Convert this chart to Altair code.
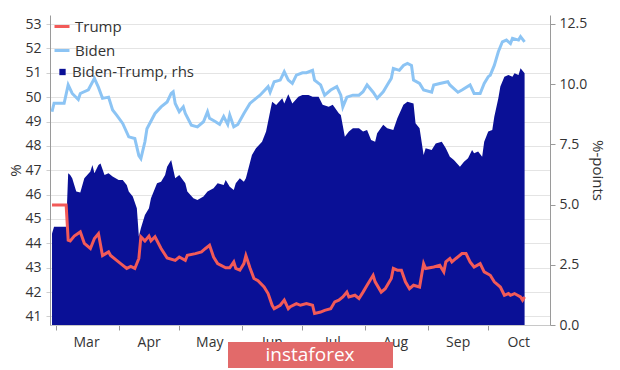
import altair as alt
import pandas as pd

# ---- data ----
trump_dates = [
    "2020-02-28", "2020-03-06", "2020-03-07", "2020-03-08", "2020-03-10", "2020-03-13", "2020-03-15",
    "2020-03-18", "2020-03-20", "2020-03-22", "2020-03-24", "2020-03-26", "2020-03-27", "2020-03-28",
    "2020-03-31", "2020-04-02", "2020-04-05", "2020-04-07", "2020-04-09", "2020-04-11", "2020-04-12",
    "2020-04-14", "2020-04-16", "2020-04-17", "2020-04-19", "2020-04-22", "2020-04-25", "2020-04-29",
    "2020-05-01", "2020-05-04", "2020-05-05", "2020-05-09", "2020-05-12", "2020-05-14", "2020-05-16",
    "2020-05-18", "2020-05-20", "2020-05-24", "2020-05-26", "2020-05-28", "2020-05-29", "2020-05-31",
    "2020-06-02", "2020-06-03", "2020-06-05", "2020-06-07", "2020-06-09", "2020-06-12", "2020-06-14",
    "2020-06-16", "2020-06-17", "2020-06-20", "2020-06-22", "2020-06-24", "2020-06-25", "2020-06-28",
    "2020-06-30", "2020-07-03", "2020-07-06", "2020-07-07", "2020-07-10", "2020-07-12", "2020-07-15",
    "2020-07-17", "2020-07-19", "2020-07-21", "2020-07-23", "2020-07-24", "2020-07-27", "2020-07-29",
    "2020-07-31", "2020-08-02", "2020-08-05", "2020-08-06", "2020-08-09", "2020-08-11", "2020-08-14",
    "2020-08-15", "2020-08-17", "2020-08-19", "2020-08-21", "2020-08-23", "2020-08-25", "2020-08-28",
    "2020-08-30", "2020-08-31", "2020-09-04", "2020-09-07", "2020-09-09", "2020-09-10", "2020-09-12",
    "2020-09-13", "2020-09-15", "2020-09-18", "2020-09-20", "2020-09-22", "2020-09-24", "2020-09-27",
    "2020-09-29", "2020-10-02", "2020-10-04", "2020-10-07", "2020-10-09", "2020-10-11", "2020-10-12",
    "2020-10-14", "2020-10-17", "2020-10-18", "2020-10-19",
]
trump_values = [
    45.57, 45.57, 44.13, 44.10, 44.30, 44.47, 44.00,
    43.79, 44.20, 44.40, 43.50, 43.60, 43.65, 43.50,
    43.30, 43.17, 42.97, 43.05, 42.97, 43.38, 44.27,
    44.10, 44.30, 44.10, 44.27, 43.79, 43.40, 43.30,
    43.44, 43.30, 43.51, 43.58, 43.65, 43.79, 43.92,
    43.44, 43.17, 43.00, 43.00, 43.24, 42.97, 42.90,
    43.17, 43.50, 43.00, 42.56, 42.47, 42.21, 41.94,
    41.46, 41.32, 41.46, 41.67, 41.32, 41.40, 41.53,
    41.46, 41.53, 41.46, 41.12, 41.18, 41.25, 41.32,
    41.60, 41.67, 41.80, 42.00, 41.80, 41.87, 41.74,
    42.00, 42.28, 42.69, 42.42, 42.00, 42.14, 42.56,
    42.97, 42.90, 42.90, 42.42, 42.14, 42.28, 42.21,
    43.17, 42.97, 43.03, 43.10, 42.83, 43.24, 43.38,
    43.24, 43.38, 43.58, 43.58, 43.24, 43.03, 43.17,
    42.83, 42.69, 42.42, 42.21, 41.87, 41.94, 41.87,
    41.94, 41.80, 41.67, 41.80,
]

biden_dates = [
    "2020-02-28", "2020-02-29", "2020-03-05", "2020-03-07", "2020-03-09", "2020-03-12", "2020-03-13",
    "2020-03-17", "2020-03-20", "2020-03-22", "2020-03-24", "2020-03-27", "2020-03-29", "2020-03-31",
    "2020-04-03", "2020-04-06", "2020-04-09", "2020-04-11", "2020-04-12", "2020-04-14", "2020-04-15",
    "2020-04-19", "2020-04-22", "2020-04-25", "2020-04-27", "2020-04-28", "2020-04-29", "2020-05-01",
    "2020-05-03", "2020-05-04", "2020-05-07", "2020-05-10", "2020-05-13", "2020-05-15", "2020-05-16",
    "2020-05-19", "2020-05-21", "2020-05-23", "2020-05-25", "2020-05-26", "2020-05-28", "2020-05-30",
    "2020-06-02", "2020-06-05", "2020-06-08", "2020-06-10", "2020-06-14", "2020-06-15", "2020-06-17",
    "2020-06-20", "2020-06-22", "2020-06-24", "2020-06-26", "2020-06-28", "2020-07-01", "2020-07-03",
    "2020-07-06", "2020-07-07", "2020-07-10", "2020-07-12", "2020-07-15", "2020-07-18", "2020-07-20",
    "2020-07-21", "2020-07-23", "2020-07-26", "2020-07-29", "2020-07-31", "2020-08-02", "2020-08-05",
    "2020-08-07", "2020-08-10", "2020-08-12", "2020-08-14", "2020-08-15", "2020-08-18", "2020-08-20",
    "2020-08-22", "2020-08-24", "2020-08-25", "2020-08-28", "2020-08-30", "2020-09-03", "2020-09-04",
    "2020-09-07", "2020-09-11", "2020-09-12", "2020-09-16", "2020-09-18", "2020-09-22", "2020-09-24",
    "2020-09-27", "2020-09-29", "2020-10-01", "2020-10-02", "2020-10-04", "2020-10-06", "2020-10-08",
    "2020-10-10", "2020-10-12", "2020-10-13", "2020-10-16", "2020-10-17", "2020-10-19",
]
biden_values = [
    49.40, 49.75, 49.75, 50.50, 50.15, 49.90, 50.15,
    50.30, 50.77, 50.40, 49.95, 50.00, 49.47, 49.26,
    48.92, 48.37, 48.30, 47.60, 47.48, 48.17, 48.70,
    49.33, 49.60, 49.80, 50.15, 50.22, 49.74, 49.40,
    49.60, 49.33, 48.85, 48.78, 48.99, 49.40, 49.13,
    48.99, 48.88, 49.20, 48.88, 49.26, 48.78, 48.88,
    49.33, 49.74, 49.95, 50.08, 50.43, 50.20, 50.63,
    50.70, 51.04, 50.70, 50.56, 50.90, 51.00, 51.00,
    51.10, 50.70, 50.50, 50.08, 50.29, 50.43, 50.08,
    49.60, 50.00, 50.08, 50.08, 50.22, 50.50, 50.20,
    49.95, 50.22, 50.50, 50.77, 51.18, 51.10, 51.30,
    51.38, 51.30, 50.70, 50.56, 50.29, 50.20, 50.50,
    50.56, 50.63, 50.50, 50.20, 50.29, 50.50, 50.15,
    50.15, 50.56, 50.84, 50.90, 51.30, 51.86, 52.27,
    52.34, 52.20, 52.41, 52.34, 52.48, 52.27,
]

gap_dates = [
    "2020-02-28", "2020-02-29", "2020-03-06", "2020-03-07", "2020-03-08", "2020-03-09", "2020-03-11",
    "2020-03-13", "2020-03-15", "2020-03-18", "2020-03-19", "2020-03-20", "2020-03-22", "2020-03-23",
    "2020-03-25", "2020-03-27", "2020-03-29", "2020-04-01", "2020-04-03", "2020-04-05", "2020-04-06",
    "2020-04-08", "2020-04-10", "2020-04-11", "2020-04-12", "2020-04-14", "2020-04-16", "2020-04-17",
    "2020-04-20", "2020-04-22", "2020-04-24", "2020-04-25", "2020-04-27", "2020-04-29", "2020-05-01",
    "2020-05-04", "2020-05-05", "2020-05-08", "2020-05-10", "2020-05-13", "2020-05-15", "2020-05-18",
    "2020-05-20", "2020-05-23", "2020-05-24", "2020-05-26", "2020-05-28", "2020-05-29", "2020-05-31",
    "2020-06-02", "2020-06-03", "2020-06-06", "2020-06-08", "2020-06-11", "2020-06-13", "2020-06-15",
    "2020-06-16", "2020-06-18", "2020-06-21", "2020-06-22", "2020-06-24", "2020-06-26", "2020-06-29",
    "2020-07-01", "2020-07-04", "2020-07-06", "2020-07-09", "2020-07-11", "2020-07-14", "2020-07-16",
    "2020-07-19", "2020-07-20", "2020-07-22", "2020-07-24", "2020-07-26", "2020-07-29", "2020-07-31",
    "2020-08-02", "2020-08-04", "2020-08-06", "2020-08-07", "2020-08-10", "2020-08-12", "2020-08-15",
    "2020-08-17", "2020-08-20", "2020-08-22", "2020-08-25", "2020-08-26", "2020-08-28", "2020-08-30",
    "2020-08-31", "2020-09-03", "2020-09-05", "2020-09-08", "2020-09-10", "2020-09-12", "2020-09-14",
    "2020-09-17", "2020-09-19", "2020-09-21", "2020-09-23", "2020-09-24", "2020-09-26", "2020-09-28",
    "2020-09-29", "2020-10-01", "2020-10-03", "2020-10-04", "2020-10-06", "2020-10-07", "2020-10-09",
    "2020-10-11", "2020-10-13", "2020-10-14", "2020-10-16", "2020-10-17", "2020-10-19",
]
gap_values = [
    3.80, 4.08, 4.08, 6.30, 6.23, 6.09, 5.54,
    5.50, 6.09, 6.37, 6.64, 6.30, 6.64, 6.71,
    6.23, 6.30, 6.16, 6.02, 6.02, 5.81, 5.54,
    5.33, 4.85, 3.67, 4.02, 4.57, 4.85, 5.26,
    5.88, 5.95, 6.23, 6.57, 6.85, 6.09, 6.23,
    5.88, 5.54, 5.26, 5.19, 5.33, 5.54, 5.68,
    5.88, 5.81, 6.02, 5.74, 5.60, 5.88, 6.09,
    5.95, 6.09, 7.06, 7.34, 7.61, 8.03, 8.86,
    9.27, 9.13, 9.41, 9.20, 9.58, 9.20, 9.48,
    9.55, 9.55, 9.48, 9.48, 9.14, 9.06, 9.14,
    8.79, 8.72, 7.82, 8.03, 8.17, 8.17, 8.03,
    8.10, 7.68, 7.61, 7.96, 8.31, 8.17, 8.10,
    8.58, 9.14, 9.27, 9.20, 8.38, 8.17, 7.06,
    7.34, 7.27, 7.54, 7.61, 7.34, 6.99, 6.85,
    6.57, 6.78, 6.92, 7.27, 7.13, 7.20, 6.99,
    7.61, 8.03, 8.10, 8.65, 9.41, 9.90, 10.31,
    10.38, 10.31, 10.45, 10.38, 10.66, 10.45,
]

series_names = ["Trump", "Biden", "Biden-Trump, rhs"]
series_colors = ["#f25a58", "#8cc4f4", "#0a1096"]
month_starts = [(2020, m) for m in range(3, 11)]
left_ticks = [41, 42, 43, 44, 45, 46, 47, 48, 49, 50, 51, 52, 53]
right_ticks = [0.0, 2.5, 5.0, 7.5, 10.0, 12.5]
watermark = ["instaforex"]

# ---- tables ----
lines_df = pd.concat([
    pd.DataFrame({"date": trump_dates, "value": trump_values, "series": series_names[0]}),
    pd.DataFrame({"date": biden_dates, "value": biden_values, "series": series_names[1]}),
])
gap_df = pd.DataFrame({"date": gap_dates, "value": gap_values, "series": series_names[2]})
wm_df = pd.DataFrame({"label": watermark})

FONT = "Open Sans"
TXT = "#333333"
AX = "#9a9a9a"

x_scale = alt.Scale(
    type="utc",
    domain=[alt.DateTime(year=2020, month=2, date=27, utc=True),
            alt.DateTime(year=2020, month=10, date=31, hours=14, utc=True)],
)
x_axis = alt.Axis(
    title=None,
    values=[alt.DateTime(year=y, month=m, date=1, utc=True) for y, m in month_starts],
    format="%b",
    labelOffset=30,
    labelPadding=5,
    labelFlush=False,
    labelOverlap=False,
    labelBound=False,
    tickSize=5,
    tickColor=AX,
    domainColor="#c8c8c8",
    grid=False,
)
x_enc = alt.X("date:T", scale=x_scale, axis=x_axis)

area = alt.Chart(gap_df).mark_area(interpolate="linear").encode(
    x=x_enc,
    y=alt.Y(
        "value:Q",
        scale=alt.Scale(domain=[0, 12.87], nice=False, zero=False),
        axis=alt.Axis(
            orient="right",
            title="%-points",
            values=right_ticks,
            format=".1f",
            grid=False,
            tickSize=5,
            tickColor=AX,
            domainColor=AX,
            labelPadding=4,
            titleX=47,
            titleY=155,
            titleAngle=90,
            titleBaseline="middle",
            titleAlign="center",
        ),
    ),
    fill=alt.Fill(
        "series:N",
        scale=alt.Scale(domain=[series_names[2]], range=[series_colors[2]]),
        legend=alt.Legend(
            title=None,
            orient="none",
            legendX=5,
            legendY=49.5,
            symbolType="square",
            symbolSize=40,
            symbolStrokeWidth=0,
            labelOffset=2,
            padding=0,
        ),
    ),
)

lines = alt.Chart(lines_df).mark_line(strokeWidth=3, interpolate="linear").encode(
    x=x_enc,
    y=alt.Y(
        "value:Q",
        scale=alt.Scale(domain=[40.65, 53.37], nice=False, zero=False),
        axis=alt.Axis(
            orient="left",
            title="%",
            values=left_ticks,
            grid=True,
            gridColor="#e4e4e4",
            tickSize=4,
            tickColor="#cfcfcf",
            labelPadding=5,
            domainColor=AX,
            titleX=-35,
            titleY=155,
            titleAngle=270,
            titleBaseline="middle",
            titleAlign="center",
        ),
    ),
    color=alt.Color(
        "series:N",
        scale=alt.Scale(domain=series_names[:2], range=series_colors[:2]),
        legend=alt.Legend(
            title=None,
            orient="none",
            legendX=3,
            legendY=2.5,
            symbolType="stroke",
            symbolSize=225,
            symbolStrokeWidth=3,
            labelOffset=4,
            rowPadding=7,
            padding=0,
        ),
    ),
    detail="series:N",
)

wm_box = alt.Chart(wm_df).mark_rect(color="#e26a6a").encode(
    x=alt.value(178), x2=alt.value(343), y=alt.value(327), y2=alt.value(353)
)
wm_text = alt.Chart(wm_df).mark_text(
    color="white", fontSize=19, font=FONT, align="center", baseline="middle"
).encode(text="label:N", x=alt.value(260), y=alt.value(340))

chart = (
    alt.layer(area, lines, wm_box, wm_text)
    .resolve_scale(y="independent")
    .properties(
        width=500,
        height=310,
        autosize=alt.AutoSizeParams(type="none"),
        padding={"left": 42, "top": 7, "right": 62, "bottom": 45},
    )
    .configure_view(strokeWidth=0)
    .configure_axis(
        labelFont=FONT,
        labelFontSize=14,
        labelColor=TXT,
        titleFont=FONT,
        titleFontSize=15,
        titleFontWeight="normal",
        titleColor=TXT,
    )
    .configure_legend(labelFont=FONT, labelFontSize=15, labelColor=TXT)
)

chart.save("out.html", embed_options={"renderer": "svg", "actions": False})
